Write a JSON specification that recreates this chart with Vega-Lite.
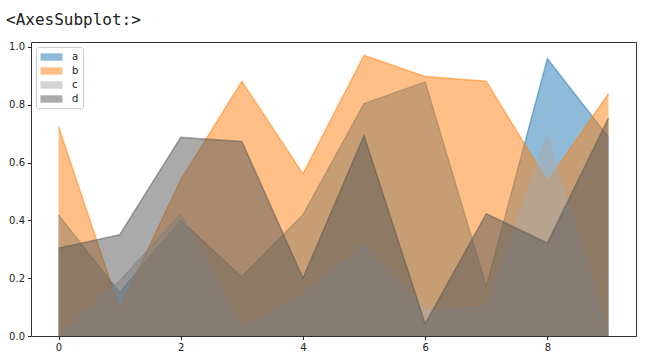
{
  "$schema": "https://vega.github.io/schema/vega-lite/v6.json",
  "width": 605,
  "height": 294,
  "autosize": {"type": "none"},
  "padding": {"left": 31, "top": 42, "right": 9, "bottom": 28},
  "background": "white",
  "title": {
    "text": "<AxesSubplot:>",
    "anchor": "start",
    "frame": "group",
    "orient": "top",
    "dx": -25,
    "offset": 1,
    "baseline": "alphabetic",
    "font": "DejaVu Sans Mono",
    "fontSize": 16,
    "fontWeight": "normal",
    "color": "#212121"
  },
  "data": {
    "values": [
      {"x": 0, "series": "a", "value": 0.419}, {"x": 1, "series": "a", "value": 0.150}, {"x": 2, "series": "a", "value": 0.400}, {"x": 3, "series": "a", "value": 0.205}, {"x": 4, "series": "a", "value": 0.419},
      {"x": 5, "series": "a", "value": 0.804}, {"x": 6, "series": "a", "value": 0.879}, {"x": 7, "series": "a", "value": 0.171}, {"x": 8, "series": "a", "value": 0.959}, {"x": 9, "series": "a", "value": 0.688},
      {"x": 0, "series": "b", "value": 0.725}, {"x": 1, "series": "b", "value": 0.094}, {"x": 2, "series": "b", "value": 0.540}, {"x": 3, "series": "b", "value": 0.881}, {"x": 4, "series": "b", "value": 0.561},
      {"x": 5, "series": "b", "value": 0.971}, {"x": 6, "series": "b", "value": 0.898}, {"x": 7, "series": "b", "value": 0.881}, {"x": 8, "series": "b", "value": 0.535}, {"x": 9, "series": "b", "value": 0.838},
      {"x": 0, "series": "c", "value": 0.005}, {"x": 1, "series": "c", "value": 0.190}, {"x": 2, "series": "c", "value": 0.422}, {"x": 3, "series": "c", "value": 0.029}, {"x": 4, "series": "c", "value": 0.144},
      {"x": 5, "series": "c", "value": 0.315}, {"x": 6, "series": "c", "value": 0.090}, {"x": 7, "series": "c", "value": 0.100}, {"x": 8, "series": "c", "value": 0.696}, {"x": 9, "series": "c", "value": 0.015},
      {"x": 0, "series": "d", "value": 0.304}, {"x": 1, "series": "d", "value": 0.350}, {"x": 2, "series": "d", "value": 0.687}, {"x": 3, "series": "d", "value": 0.673}, {"x": 4, "series": "d", "value": 0.200},
      {"x": 5, "series": "d", "value": 0.693}, {"x": 6, "series": "d", "value": 0.042}, {"x": 7, "series": "d", "value": 0.423}, {"x": 8, "series": "d", "value": 0.321}, {"x": 9, "series": "d", "value": 0.754}
    ]
  },
  "encoding": {
    "x": {
      "field": "x", "type": "quantitative",
      "scale": {"domain": [-0.45, 9.45], "nice": false, "zero": false},
      "axis": {"title": null, "values": [0, 2, 4, 6, 8], "grid": false, "domain": false, "tickSize": 3.5, "labelPadding": 3, "labelFontSize": 10, "labelFont": "DejaVu Sans", "labelColor": "#222", "tickColor": "#222"}
    },
    "y": {
      "field": "value", "type": "quantitative",
      "scale": {"domain": [0, 1.017], "nice": false, "zero": false},
      "axis": {"title": null, "values": [0, 0.2, 0.4, 0.6, 0.8, 1.0], "format": ".1f", "grid": false, "domain": false, "tickSize": 3.5, "labelPadding": 3, "labelFontSize": 10, "labelFont": "DejaVu Sans", "labelColor": "#222", "tickColor": "#222"}
    }
  },
  "layer": [
    {"transform": [{"filter": "datum.series === 'a'"}], "mark": {"type": "line", "strokeWidth": 1.5, "opacity": 0.5, "color": "#1f77b4"}, "encoding": {}},
    {"transform": [{"filter": "datum.series === 'a'"}], "mark": {"type": "area", "fillOpacity": 0.5}, "encoding": {"color": {"field": "series", "type": "nominal", "scale": {"domain": ["a", "b", "c", "d"], "range": ["#1f77b4", "#ff7f0e", "#a9a9a9", "#555555"]}, "legend": {"title": null, "orient": "none", "legendX": 5, "legendY": 5, "padding": 4, "fillColor": "rgba(255,255,255,0.8)", "strokeColor": "#cccccc", "cornerRadius": 2, "symbolType": "M-1,-0.67L3,-0.67L3,0.67L-1,0.67Z", "symbolSize": 121, "symbolOpacity": 0.5, "symbolStrokeWidth": 1, "labelFont": "DejaVu Sans", "labelFontSize": 10, "labelColor": "#222", "labelOffset": 20, "rowPadding": 3}}}},
    {"transform": [{"filter": "datum.series === 'b'"}], "mark": {"type": "line", "strokeWidth": 1.5, "opacity": 0.5, "color": "#ff7f0e"}, "encoding": {}},
    {"transform": [{"filter": "datum.series === 'b'"}], "mark": {"type": "area", "fillOpacity": 0.5}, "encoding": {"color": {"field": "series", "type": "nominal"}}},
    {"transform": [{"filter": "datum.series === 'c'"}], "mark": {"type": "line", "strokeWidth": 1.5, "opacity": 0.5, "color": "#a9a9a9"}, "encoding": {}},
    {"transform": [{"filter": "datum.series === 'c'"}], "mark": {"type": "area", "fillOpacity": 0.5}, "encoding": {"color": {"field": "series", "type": "nominal"}}},
    {"transform": [{"filter": "datum.series === 'd'"}], "mark": {"type": "line", "strokeWidth": 1.5, "opacity": 0.5, "color": "#555555"}, "encoding": {}},
    {"transform": [{"filter": "datum.series === 'd'"}], "mark": {"type": "area", "fillOpacity": 0.5}, "encoding": {"color": {"field": "series", "type": "nominal"}}}
  ],
  "config": {
    "view": {"stroke": "#333333", "strokeWidth": 1}
  }
}
